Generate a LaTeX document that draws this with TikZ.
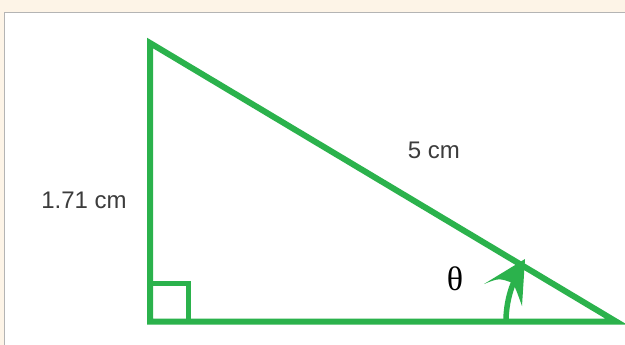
\documentclass[tikz,border=0pt]{standalone}
\usepackage{fontspec}
\setmainfont{Liberation Sans}
\newfontfamily\thetafont{Liberation Serif}
\definecolor{cream}{HTML}{FDF4E7}
\definecolor{frame}{HTML}{B4B4B4}
\definecolor{trigreen}{HTML}{2BB24C}
\definecolor{labelgray}{HTML}{3C3C3C}
\tikzset{
  side/.style={draw=trigreen, line width=6pt, line join=miter},
  marker/.style={draw=trigreen, line width=5pt, line join=miter},
  lbl/.style={font=\fontsize{24}{28}\selectfont, text=labelgray, inner sep=0pt, anchor=base},
  anglbl/.style={font=\thetafont\fontsize{34}{38}\selectfont, text=black, inner sep=0pt, anchor=base}
}
\begin{document}
\begin{tikzpicture}[x=1pt,y=-1pt]
\useasboundingbox (0,0) rectangle (625,345);
\clip (0,0) rectangle (625,345);
\fill[cream] (0,0) rectangle (625,345);
\draw[frame, fill=white, line width=1.2pt] (4.5,12.5) rectangle (660,380);
% vertices
\coordinate (A) at (150,43);
\coordinate (B) at (150,321.5);
\coordinate (C) at (616,321.5);
\draw[side] (A) -- (B) -- (C) -- cycle;
% right-angle marker
\coordinate (S1) at (150,283);
\coordinate (S2) at (188,283);
\coordinate (S3) at (188,321.5);
\draw[marker] (S1) -- (S2) -- (S3);
% angle arrow: shaft
\coordinate (Q) at (506,321.5);
\draw[trigreen, line width=5.5pt] (Q) arc[start angle=180, end angle=211, radius=104];
% angle arrow: barbed head
\coordinate (T) at (525,259);
\coordinate (L) at (484,284);
\coordinate (N) at (513,283);
\coordinate (R) at (522,306);
\fill[trigreen] (T) -- (L) .. controls (499,278) .. (N) .. controls (517,292) .. (R) -- cycle;
% labels
\node[lbl] (h) at (84,208) {1.71 cm};
\node[lbl] (c) at (434,158) {5 cm};
\node[anglbl] (t) at (455,290) {θ};
\end{tikzpicture}
\end{document}
